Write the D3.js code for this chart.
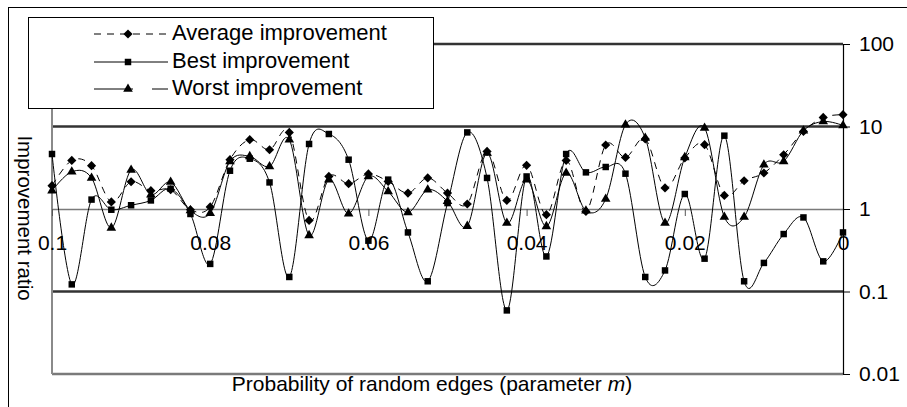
<!DOCTYPE html>
<html>
<head>
<meta charset="utf-8">
<script src="https://cdn.jsdelivr.net/npm/d3@7"></script>
<style>
  html, body { margin: 0; padding: 0; background: #fff; }
  svg { display: block; font-family: "Liberation Sans", Arial, sans-serif; }
</style>
</head>
<body>
<svg id="chart" width="907" height="407"></svg>
<script>
// Probability of random edges (parameter m), plotted from 0.1 down to 0
const mValues = [0.1, 0.0975, 0.095, 0.0925, 0.09, 0.0875, 0.085, 0.0825, 0.08, 0.0775,
  0.075, 0.0725, 0.07, 0.0675, 0.065, 0.0625, 0.06, 0.0575, 0.055, 0.0525,
  0.05, 0.0475, 0.045, 0.0425, 0.04, 0.0375, 0.035, 0.0325, 0.03, 0.0275,
  0.025, 0.0225, 0.02, 0.0175, 0.015, 0.0125, 0.01, 0.0075, 0.005, 0.0025, 0];

const averageImprovement = [1.92, 3.88, 3.35, 1.22, 2.14, 1.67, 1.71, 0.98, 1.06, 3.96,
  6.92, 5.23, 8.48, 0.727, 2.48, 2.03, 2.66, 2.16, 1.56, 2.38,
  1.56, 1.15, 4.99, 1.27, 3.38, 0.853, 3.88, 0.935, 5.97, 4.22,
  7.05, 1.80, 4.15, 6.02, 1.46, 2.20, 2.73, 4.55, 8.72, 12.9, 13.9];

const bestImprovement = [4.64, 0.122, 1.30, 0.98, 1.11, 1.27, 1.76, 0.87, 0.216, 2.91,
  4.07, 2.10, 0.150, 6.14, 8.11, 3.96, 0.413, 2.27, 0.52, 0.133,
  1.18, 8.48, 2.38, 0.059, 2.48, 0.266, 4.64, 2.78, 3.23, 2.68,
  0.150, 0.180, 1.52, 0.25, 7.74, 0.133, 0.222, 0.497, 0.79, 0.232, 0.52];

const worstImprovement = [1.67, 2.83, 2.38, 0.59, 2.97, 1.49, 2.12, 0.96, 0.89, 3.78,
  4.34, 3.28, 6.92, 0.479, 2.27, 0.877, 2.48, 1.63, 0.91, 1.71,
  1.24, 0.62, 4.77, 0.676, 2.27, 0.615, 2.73, 0.95, 1.32, 10.5,
  7.26, 0.676, 4.22, 9.6, 0.80, 0.80, 3.44, 3.78, 8.89, 11.5, 10.3];

const xTickValues = [0.1, 0.08, 0.06, 0.04, 0.02, 0];
const xTickLabels = ["0.1", "0.08", "0.06", "0.04", "0.02", "0"];
const yTickValues = [0.01, 0.1, 1, 10, 100];
const yTickLabels = ["0.01", "0.1", "1", "10", "100"];
const gridValues = [100, 10, 0.1];

const seriesNames = ["Average improvement", "Best improvement", "Worst improvement"];

const svg = d3.select("#chart");

const plot = { left: 52, right: 843, top: 44, bottom: 374 };

const x = d3.scaleLinear().domain([0.1, 0]).range([plot.left, plot.right]);
const y = d3.scaleLog().domain([0.01, 100]).range([plot.bottom, plot.top]);

// square diamond: a square turned 45 degrees (equal width and height)
const symbolSquareDiamond = {
  draw(context, size) {
    const r = Math.sqrt(size / 2);
    context.moveTo(0, -r);
    context.lineTo(r, 0);
    context.lineTo(0, r);
    context.lineTo(-r, 0);
    context.closePath();
  }
};

// outer frame
svg.append("rect")
  .attr("x", 8.5).attr("y", 7.5)
  .attr("width", 930).attr("height", 430)
  .attr("fill", "none").attr("stroke", "#000").attr("stroke-width", 1);

// major gridlines
svg.append("g").selectAll("line")
  .data(gridValues)
  .join("line")
  .attr("x1", plot.left).attr("x2", plot.right)
  .attr("y1", d => y(d)).attr("y2", d => y(d))
  .attr("stroke", "#333").attr("stroke-width", 2.5);

// plot area bottom and left edges
svg.append("line")
  .attr("x1", plot.left).attr("x2", plot.right)
  .attr("y1", y(0.01)).attr("y2", y(0.01))
  .attr("stroke", "#7a7a7a").attr("stroke-width", 2.5);
svg.append("line")
  .attr("x1", plot.left).attr("x2", plot.left)
  .attr("y1", plot.top).attr("y2", plot.bottom)
  .attr("stroke", "#8a8a8a").attr("stroke-width", 2);

// category axis crossing at ratio 1
const xAxis = svg.append("g")
  .attr("transform", `translate(0,${y(1)})`)
  .call(d3.axisBottom(x)
    .tickValues(xTickValues)
    .tickFormat((d, i) => xTickLabels[i])
    .tickSize(7).tickSizeOuter(0).tickPadding(19));
xAxis.select(".domain").attr("stroke", "#7a7a7a").attr("stroke-width", 1.5);
xAxis.selectAll(".tick line").attr("stroke", "#555");
xAxis.selectAll("text")
  .attr("font-size", 21).attr("fill", "#000")
  .attr("font-family", "Liberation Sans, Arial, sans-serif");

// value axis on the right
const yAxis = svg.append("g")
  .attr("transform", `translate(${plot.right},0)`)
  .call(d3.axisRight(y)
    .tickValues(yTickValues)
    .tickFormat((d, i) => yTickLabels[i])
    .tickSize(7).tickSizeOuter(0).tickPadding(9));
yAxis.select(".domain").attr("stroke", "#000").attr("stroke-width", 1.2);
yAxis.selectAll(".tick line").attr("stroke", "#000");
yAxis.selectAll("text")
  .attr("font-size", 21).attr("fill", "#000")
  .attr("font-family", "Liberation Sans, Arial, sans-serif");

// series
const line = d3.line()
  .x((d, i) => x(mValues[i]))
  .y(d => y(d))
  .curve(d3.curveCatmullRom.alpha(0));

const series = [
  { name: seriesNames[0], values: averageImprovement, dash: "7,6", symbol: symbolSquareDiamond, size: 42 },
  { name: seriesNames[1], values: bestImprovement, dash: null, symbol: d3.symbolSquare, size: 42 },
  { name: seriesNames[2], values: worstImprovement, dash: null, symbol: d3.symbolTriangle, size: 40 }
];

series.forEach(s => {
  const g = svg.append("g");
  g.append("path")
    .attr("d", line(s.values))
    .attr("fill", "none")
    .attr("stroke", "#000")
    .attr("stroke-width", 1)
    .attr("stroke-dasharray", s.dash);
  g.selectAll("path.marker")
    .data(s.values)
    .join("path")
    .attr("class", "marker")
    .attr("transform", (d, i) => `translate(${x(mValues[i])},${y(d)})`)
    .attr("d", d3.symbol(s.symbol, s.size))
    .attr("fill", "#000");
});

// axis titles
svg.append("text")
  .attr("transform", "translate(17.5,218) rotate(90)")
  .attr("text-anchor", "middle")
  .attr("font-size", 20.5)
  .text("Improvement ratio");

const xTitle = svg.append("text")
  .attr("x", 432).attr("y", 391)
  .attr("text-anchor", "middle")
  .attr("font-size", 21);
xTitle.append("tspan").text("Probability of random edges (parameter ");
xTitle.append("tspan").attr("font-style", "italic").text("m");
xTitle.append("tspan").text(")");

// legend
const legend = svg.append("g");
legend.append("rect")
  .attr("x", 28.5).attr("y", 17.5)
  .attr("width", 405).attr("height", 91)
  .attr("fill", "#fff").attr("stroke", "#000").attr("stroke-width", 1);

const legendRows = [34, 62, 89];
series.forEach((s, i) => {
  const cy = legendRows[i];
  if (i === 2) {
    legend.append("line").attr("x1", 94).attr("x2", 133).attr("y1", cy).attr("y2", cy)
      .attr("stroke", "#000").attr("stroke-width", 1);
    legend.append("line").attr("x1", 152).attr("x2", 168).attr("y1", cy).attr("y2", cy)
      .attr("stroke", "#000").attr("stroke-width", 1);
  } else {
    legend.append("line").attr("x1", 94).attr("x2", 168).attr("y1", cy).attr("y2", cy)
      .attr("stroke", "#000").attr("stroke-width", 1)
      .attr("stroke-dasharray", s.dash);
  }
  legend.append("path")
    .attr("transform", `translate(128,${cy})`)
    .attr("d", d3.symbol(s.symbol, s.size))
    .attr("fill", "#000");
  legend.append("text")
    .attr("x", 172).attr("y", cy + 6)
    .attr("font-size", 22)
    .text(s.name);
});
</script>
</body>
</html>
